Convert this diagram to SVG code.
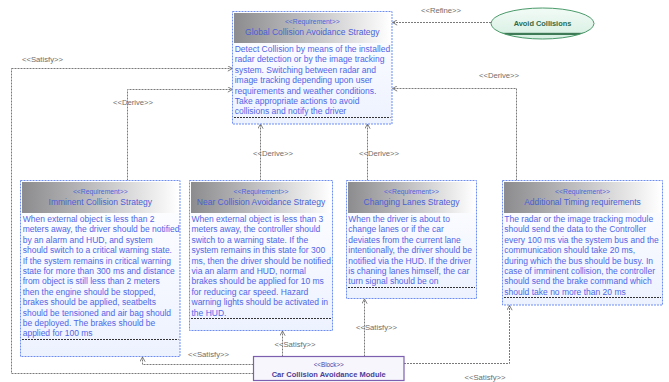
<svg xmlns="http://www.w3.org/2000/svg" width="669" height="382" viewBox="0 0 669 382">
  <defs>
    <linearGradient id="hdr" x1="0" y1="0" x2="1" y2="0">
      <stop offset="0" stop-color="#8c8c8e"/>
      <stop offset="0.55" stop-color="#c9c9cb"/>
      <stop offset="1" stop-color="#ffffff"/>
    </linearGradient>
    <linearGradient id="body" x1="0" y1="0" x2="0" y2="1">
      <stop offset="0" stop-color="#ffffff"/>
      <stop offset="1" stop-color="#edf2ff"/>
    </linearGradient>
    <linearGradient id="uc" x1="0" y1="0" x2="0" y2="1">
      <stop offset="0" stop-color="#f2fbf6"/>
      <stop offset="1" stop-color="#d6efe2"/>
    </linearGradient>
    <clipPath id="ucClip">
      <ellipse cx="542.5" cy="23.5" rx="51.5" ry="15.5"/>
    </clipPath>
    <marker id="open" viewBox="0 0 6 6" refX="5.5" refY="3" markerWidth="6" markerHeight="6" markerUnits="userSpaceOnUse" orient="auto">
      <path d="M0.8,0.4 L5.5,3 L0.8,5.6" fill="none" stroke="#707070" stroke-width="0.9"/>
    </marker>
  </defs>
  <style>
    .frame { fill: url(#body); stroke: #6d8df5; stroke-width: 1; stroke-dasharray: 2 1; }
    .head { fill: url(#hdr); }
    .sep { stroke: #333333; stroke-width: 1; stroke-dasharray: 2 1; }
    .stereo { font-family: "Liberation Sans", Arial, sans-serif; font-size: 6.8px; fill: #4d63dc; text-anchor: middle; }
    .title { font-family: "Liberation Sans", Arial, sans-serif; font-size: 8.5px; fill: #4a5fd6; text-anchor: middle; }
    .txt { font-family: "Liberation Sans", Arial, sans-serif; font-size: 8.5px; fill: #4f66e6; }
    .wire { fill: none; stroke: #7a7a7a; stroke-width: 1; stroke-dasharray: 2 1; marker-end: url(#open); }
    .wire0 { fill: none; stroke: #7a7a7a; stroke-width: 1; stroke-dasharray: 2 1; }
    .lbl { font-family: "Liberation Sans", Arial, sans-serif; font-size: 7.7px; fill: #6e6e6e; text-anchor: middle; }
  </style>

  <!-- connectors -->
  <g id="connectors">
    <path class="wire" d="M491,22.5 H392.5"/>
    <path class="wire0" d="M253.5,373.5 H11.5 V68.5"/>
    <path class="wire" d="M11.5,68.5 H232.5"/>
    <path class="wire" d="M127.5,180.5 V89.5 H232.5"/>
    <path class="wire" d="M260.5,180.5 V124"/>
    <path class="wire" d="M367.5,180.5 V124"/>
    <path class="wire" d="M516.5,180.5 V88.5 H392.5"/>
    <path class="wire" d="M253.5,364.5 H142.5 V357"/>
    <path class="wire" d="M282.5,356.5 V331"/>
    <path class="wire" d="M364.5,356.5 V299"/>
    <path class="wire" d="M404,363.5 H509.5 V305.5"/>
    <text class="lbl" x="441" y="12.7">&lt;&lt;Refine&gt;&gt;</text>
    <text class="lbl" x="42.5" y="61.7">&lt;&lt;Satisfy&gt;&gt;</text>
    <text class="lbl" x="133" y="104.7">&lt;&lt;Derive&gt;&gt;</text>
    <text class="lbl" x="273" y="155.7">&lt;&lt;Derive&gt;&gt;</text>
    <text class="lbl" x="379" y="155.7">&lt;&lt;Derive&gt;&gt;</text>
    <text class="lbl" x="499" y="77.7">&lt;&lt;Derive&gt;&gt;</text>
    <text class="lbl" x="295" y="346.7">&lt;&lt;Satisfy&gt;&gt;</text>
    <text class="lbl" x="208.5" y="356.7">&lt;&lt;Satisfy&gt;&gt;</text>
    <text class="lbl" x="376.5" y="330.4">&lt;&lt;Satisfy&gt;&gt;</text>
    <text class="lbl" x="485" y="379.7">&lt;&lt;Satisfy&gt;&gt;</text>
  </g>

  <!-- top-level requirement -->
  <g id="global-strategy">
    <rect class="frame" x="232.5" y="11.5" width="159.5" height="112.5"/>
    <rect class="head" x="234" y="13" width="156.5" height="30"/>
    <text class="stereo" x="312.3" y="23.5">&lt;&lt;Requirement&gt;&gt;</text>
    <text class="title" x="312.3" y="35.3">Global Collision Avoidance Strategy</text>
    <text class="txt" x="234.7" y="52">Detect Collision by means of the installed</text>
    <text class="txt" x="234.7" y="62.4">radar detection or by the image tracking</text>
    <text class="txt" x="234.7" y="72.8">system. Switching between radar and</text>
    <text class="txt" x="234.7" y="83.2">image tracking depending upon user</text>
    <text class="txt" x="234.7" y="93.6">requirements and weather conditions.</text>
    <text class="txt" x="234.7" y="104">Take appropriate actions to avoid</text>
    <text class="txt" x="234.7" y="114.4">collisions and notify the driver</text>
    <line class="sep" x1="234" y1="117.5" x2="390.5" y2="117.5"/>
  </g>

  <!-- use case -->
  <g id="avoid-collisions">
    <ellipse cx="542.5" cy="23.5" rx="51.5" ry="15.5" fill="url(#uc)"/>
    <rect x="490" y="32.8" width="105" height="2.2" fill="#3d7a55" clip-path="url(#ucClip)"/>
    <ellipse cx="542.5" cy="23.5" rx="51.5" ry="15.5" fill="none" stroke="#4a9a6a" stroke-width="1"/>
    <text x="542.5" y="25.6" font-family="'Liberation Sans', Arial, sans-serif" font-size="7.4px" font-weight="bold" fill="#2e6b4a" text-anchor="middle">Avoid Collisions</text>
  </g>

  <g id="imminent-collision">
    <rect class="frame" x="20.5" y="180.5" width="159.5" height="176"/>
    <rect class="head" x="22" y="182" width="156.5" height="31"/>
    <text class="stereo" x="100.3" y="193.5">&lt;&lt;Requirement&gt;&gt;</text>
    <text class="title" x="100.3" y="205">Imminent Collision Strategy</text>
    <text class="txt" x="22.7" y="222">When external object is less than 2</text>
    <text class="txt" x="22.7" y="232.4">meters away, the driver should be notified</text>
    <text class="txt" x="22.7" y="242.8">by an alarm and HUD, and system</text>
    <text class="txt" x="22.7" y="253.2">should switch to a critical warning state.</text>
    <text class="txt" x="22.7" y="263.6">If the system remains in critical warning</text>
    <text class="txt" x="22.7" y="274">state for more than 300 ms and distance</text>
    <text class="txt" x="22.7" y="284.4">from object is still less than 2 meters</text>
    <text class="txt" x="22.7" y="294.8">then the engine should be stopped,</text>
    <text class="txt" x="22.7" y="305.2">brakes should be applied, seatbelts</text>
    <text class="txt" x="22.7" y="315.6">should be tensioned and air bag should</text>
    <text class="txt" x="22.7" y="326">be deployed. The brakes should be</text>
    <text class="txt" x="22.7" y="336.4">applied for 100 ms</text>
    <line class="sep" x1="22" y1="339.5" x2="178.5" y2="339.5"/>
  </g>

  <g id="near-collision">
    <rect class="frame" x="189.5" y="180.5" width="143" height="150"/>
    <rect class="head" x="191" y="182" width="140" height="31"/>
    <text class="stereo" x="261" y="193.5">&lt;&lt;Requirement&gt;&gt;</text>
    <text class="title" x="261" y="205">Near Collision Avoidance Strategy</text>
    <text class="txt" x="191.5" y="222">When external object is less than 3</text>
    <text class="txt" x="191.5" y="232.4">meters away, the controller should</text>
    <text class="txt" x="191.5" y="242.8">switch to a warning state. If the</text>
    <text class="txt" x="191.5" y="253.2">system remains in this state for 300</text>
    <text class="txt" x="191.5" y="263.6">ms, then the driver should be notified</text>
    <text class="txt" x="191.5" y="274">via an alarm and HUD, normal</text>
    <text class="txt" x="191.5" y="284.4">brakes should be applied for 10 ms</text>
    <text class="txt" x="191.5" y="294.8">for reducing car speed. Hazard</text>
    <text class="txt" x="191.5" y="305.2">warning lights should be activated in</text>
    <text class="txt" x="191.5" y="315.6">the HUD.</text>
    <line class="sep" x1="191" y1="318.5" x2="331" y2="318.5"/>
  </g>

  <g id="changing-lanes">
    <rect class="frame" x="346.5" y="180.5" width="130" height="118"/>
    <rect class="head" x="348" y="182" width="127" height="31"/>
    <text class="stereo" x="411.5" y="193.5">&lt;&lt;Requirement&gt;&gt;</text>
    <text class="title" x="411.5" y="205">Changing Lanes Strategy</text>
    <text class="txt" x="348.3" y="222">When the driver is about to</text>
    <text class="txt" x="348.3" y="232.4">change lanes or if the car</text>
    <text class="txt" x="348.3" y="242.8">deviates from the current lane</text>
    <text class="txt" x="348.3" y="253.2">intentionally, the driver should be</text>
    <text class="txt" x="348.3" y="263.6">notified via the HUD. If the driver</text>
    <text class="txt" x="348.3" y="274">is chaning lanes himself, the car</text>
    <text class="txt" x="348.3" y="284.4">turn signal should be on</text>
    <line class="sep" x1="348" y1="287.5" x2="475" y2="287.5"/>
  </g>

  <g id="additional-timing">
    <rect class="frame" x="502.5" y="180.5" width="160" height="124.5"/>
    <rect class="head" x="504" y="182" width="157" height="31"/>
    <text class="stereo" x="582.5" y="193.5">&lt;&lt;Requirement&gt;&gt;</text>
    <text class="title" x="582.5" y="205">Additional Timing requirements</text>
    <text class="txt" x="504.3" y="222">The radar or the image tracking module</text>
    <text class="txt" x="504.3" y="232.4">should send the data to the Controller</text>
    <text class="txt" x="504.3" y="242.8">every 100 ms via the system bus and the</text>
    <text class="txt" x="504.3" y="253.2">communication should take 20 ms,</text>
    <text class="txt" x="504.3" y="263.6">during which the bus should be busy. In</text>
    <text class="txt" x="504.3" y="274">case of imminent collision, the controller</text>
    <text class="txt" x="504.3" y="284.4">should send the brake command which</text>
    <text class="txt" x="504.3" y="294.8">should take no more than 20 ms</text>
    <line class="sep" x1="504" y1="297.5" x2="661" y2="297.5"/>
  </g>

  <g id="collision-module">
    <rect x="253.5" y="356.5" width="150.5" height="24" fill="#f8f6fd" stroke="#7d5fb0" stroke-width="1.2"/>
    <text x="328.7" y="367" font-family="'Liberation Sans', Arial, sans-serif" font-size="6.3px" fill="#4b3d9a" text-anchor="middle">&lt;&lt;Block&gt;&gt;</text>
    <text x="328.7" y="377.2" font-family="'Liberation Sans', Arial, sans-serif" font-size="7.5px" font-weight="bold" fill="#4b3d9a" text-anchor="middle">Car Collision Avoidance Module</text>
  </g>
</svg>
